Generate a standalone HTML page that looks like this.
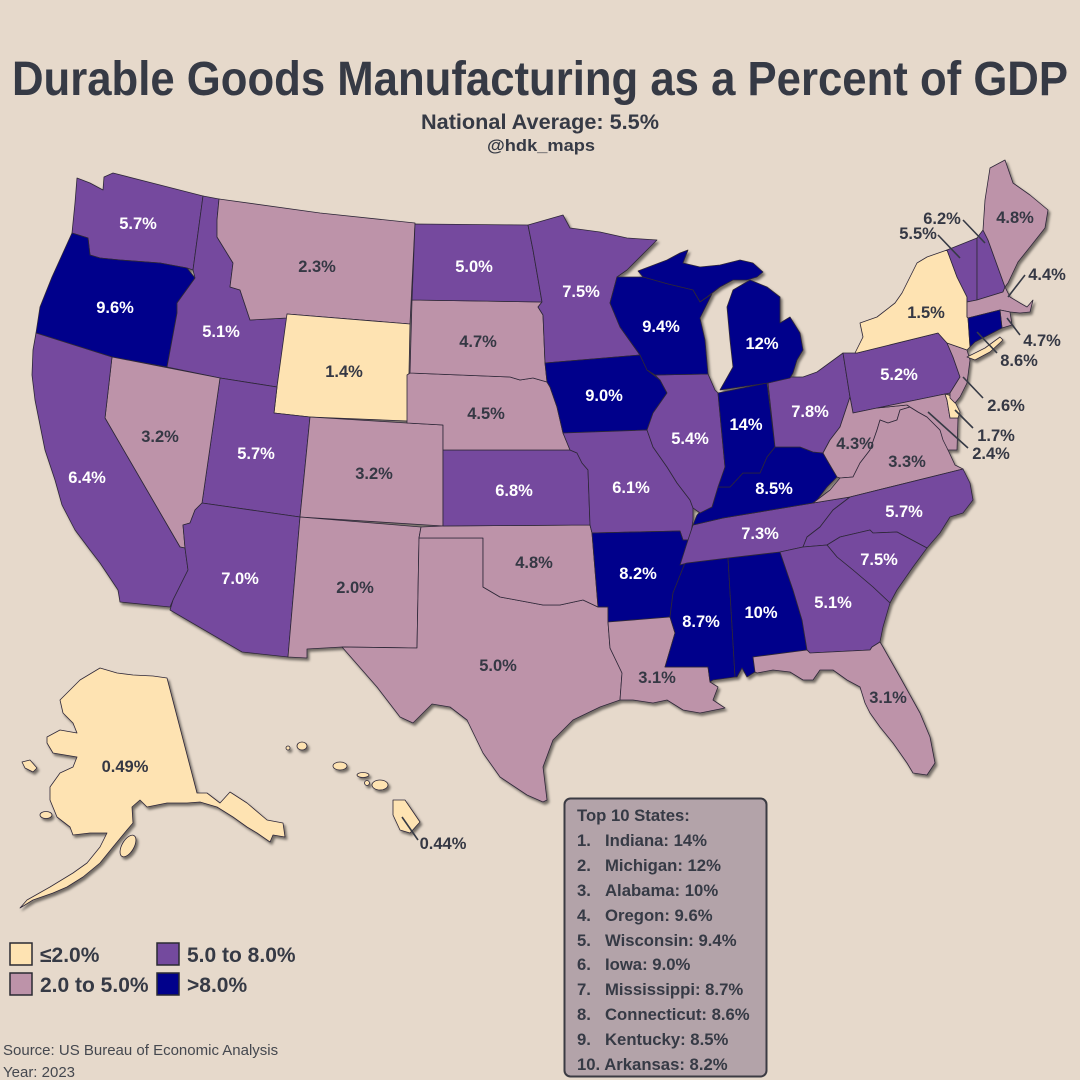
<!DOCTYPE html>
<html><head><meta charset="utf-8"><style>
html,body{margin:0;padding:0;background:#e6d9cb;}
svg{display:block;}
.t{font-family:"Liberation Sans",Arial,sans-serif;font-weight:bold;}
.lw{fill:#ffffff;font-size:16.5px;text-anchor:middle;}
.ld{fill:#353844;font-size:16.5px;text-anchor:middle;}
.y{fill:#fee3b2}.p{fill:#bd93a9}.u{fill:#744a9e}.n{fill:#01018b}
.st polygon,.st ellipse{stroke:#2e2838;stroke-width:0.8;stroke-linejoin:round;}
.ln{stroke:#363a45;stroke-width:1.6;fill:none;}
</style></head><body>
<svg width="1080" height="1080" viewBox="0 0 1080 1080" xmlns="http://www.w3.org/2000/svg">
<defs><filter id="sh" x="-5%" y="-5%" width="110%" height="110%"><feDropShadow dx="2" dy="2.5" stdDeviation="1.2" flood-color="#000" flood-opacity="0.5"/></filter></defs>
<rect width="1080" height="1080" fill="#e6d9cb"/>
<text class="t" x="12" y="95" font-size="48" fill="#363a45" textLength="1056" lengthAdjust="spacingAndGlyphs">Durable Goods Manufacturing as a Percent of GDP</text>
<text class="t" x="421" y="129" font-size="21" fill="#363a45" textLength="238" lengthAdjust="spacingAndGlyphs">National Average: 5.5%</text>
<text class="t" x="487" y="151" font-size="17" fill="#363a45" textLength="108" lengthAdjust="spacingAndGlyphs">@hdk_maps</text>

<g class="st" filter="url(#sh)">
<polygon class="u" points="77,178 90,183 103,190 104,177 113,173 160,185 203,196 193,270 187,268 160,263 120,260 100,258 90,255 88,238 72,233 75,203"/>
<polygon class="n" points="72,233 88,238 90,255 100,258 120,260 160,263 187,268 195,278 177,303 177,313 167,367 112,357 36,333 40,307 52,277 62,255"/>
<polygon class="u" points="203,196 219,199 217,220 217,237 233,263 230,287 240,290 250,320 287,318 277,387 220,378 167,367 177,313 177,303 195,278 193,270"/>
<polygon class="p" points="219,199 320,213 415,223 410,324 287,314 287,318 250,320 240,290 230,287 233,263 217,237 217,220"/>
<polygon class="y" points="287,314 410,324 408,421 310,417 274,413 277,387"/>
<polygon class="u" points="220,378 277,387 274,413 310,417 300,517 202,503"/>
<polygon class="p" points="112,357 220,378 202,503 195,510 190,523 183,525 185,548 180,547 105,418"/>
<polygon class="u" points="36,333 112,357 105,418 180,547 185,548 188,570 173,600 170,607 120,602 118,590 100,563 90,550 75,530 62,505 55,480 45,450 40,425 35,400 32,375 33,350"/>
<polygon class="u" points="202,503 300,517 288,657 242,652 170,610 173,600 188,570 185,548 183,525 190,523 195,510"/>
<polygon class="p" points="310,417 407,423 443,425 443,526 300,517"/>
<polygon class="p" points="300,517 421,527 419,538 417,648 342,647 307,649 307,658 288,657"/>
<polygon class="p" points="419,538 483,538 483,587 500,597 527,602 543,605 560,605 583,600 598,607 608,607 608,622 610,648 622,673 620,700 600,707 573,720 553,740 543,767 547,800 543,802 527,795 500,777 483,753 467,720 450,707 432,704 413,723 400,717 377,687 342,647 417,648"/>
<polygon class="p" points="421,527 443,526 590,525 592,533 598,607 583,600 560,605 543,605 527,602 500,597 483,587 483,538 419,538"/>
<polygon class="u" points="443,450 570,450 577,453 582,463 588,470 590,525 443,526"/>
<polygon class="p" points="410,373 510,377 520,380 533,378 547,382 550,387 557,407 563,433 570,450 443,450 443,425 407,423 407,375"/>
<polygon class="p" points="412,300 542,302 538,307 543,315 545,363 547,382 533,378 520,380 510,377 410,373"/>
<polygon class="u" points="415,224 528,225 533,250 542,302 412,300"/>
<polygon class="u" points="528,225 563,215 570,228 600,232 627,238 657,240 627,270 617,277 610,303 620,327 640,355 545,363 543,315 538,307 542,302 533,250"/>
<polygon class="n" points="545,363 640,355 647,370 660,380 667,393 653,413 647,430 563,433 557,407 550,387 547,382"/>
<polygon class="u" points="563,433 647,430 653,447 667,467 677,483 690,500 693,508 693,520 690,540 683,540 680,531 592,533 590,525 588,470 582,463 577,453 570,450"/>
<polygon class="n" points="592,533 680,531 683,540 690,540 685,563 673,593 670,617 608,622 608,607 598,607"/>
<polygon class="p" points="608,622 670,617 675,633 665,667 708,667 710,682 718,687 713,700 725,708 700,713 683,710 667,700 653,703 633,700 620,700 622,673 610,648"/>
<polygon class="n" points="687,563 728,558 735,677 713,680 710,682 708,667 665,667 675,633 670,617 673,593 685,563"/>
<polygon class="n" points="728,558 780,552 793,590 802,620 807,650 753,657 755,672 747,677 742,668 737,677 735,677"/>
<polygon class="u" points="693,525 723,518 813,503 850,497 833,510 820,527 807,537 803,547 780,552 728,558 687,563 680,565 687,543"/>
<polygon class="n" points="700,512 712,507 718,487 730,487 743,473 760,473 767,457 775,447 800,447 813,452 823,453 827,460 837,477 827,487 817,500 813,503 723,518 693,525 697,515"/>
<polygon class="u" points="655,375 708,374 715,390 718,393 725,467 720,487 718,487 712,507 700,513 693,508 690,500 677,483 667,467 653,447 647,430 653,413 667,393 660,380"/>
<polygon class="n" points="718,393 767,383 775,447 767,457 760,473 743,473 730,487 718,487 725,467"/>
<polygon class="u" points="768,383 790,377 803,377 817,372 843,353 850,397 840,427 830,440 823,453 813,452 800,447 775,447"/>
<polygon class="n" points="720,390 733,367 730,340 727,307 733,290 750,280 767,287 780,297 780,323 790,317 800,333 803,350 797,360 793,373 790,378 768,383"/>
<polygon class="n" points="638,271 667,260 680,253 688,250 683,263 700,267 720,265 740,260 753,263 763,272 757,277 747,280 733,280 720,287 707,297 700,302 693,290 668,284 643,277"/>
<polygon class="n" points="617,277 643,277 668,284 693,290 700,302 712,294 700,318 705,340 708,374 655,375 647,370 640,355 620,327 610,303"/>
<polygon class="u" points="843,353 857,353 938,333 947,343 953,357 960,377 950,393 853,413 850,397"/>
<polygon class="p" points="850,397 853,413 877,408 887,407 907,405 910,407 900,410 897,420 888,423 880,420 877,430 870,450 860,463 853,477 840,478 837,477 827,460 823,453 830,440 840,427"/>
<polygon class="p" points="813,503 830,490 840,478 853,477 860,463 870,450 877,430 880,420 888,423 897,420 900,410 910,407 918,412 927,417 940,430 948,450 955,465 963,469 850,497"/>
<polygon class="p" points="877,408 945,394 947,400 950,418 958,418 957,450 948,450 943,440 940,430 927,417 918,412 910,407 907,405 887,407"/>
<polygon class="y" points="945,394 952,396 960,412 958,418 950,418 947,400"/>
<polygon class="p" points="947,343 967,350 970,360 967,383 960,397 955,403 950,398 950,393 960,377 953,357"/>
<polygon class="y" points="855,353 863,337 860,323 877,317 895,303 902,293 907,283 917,263 927,257 947,250 957,277 967,297 967,302 967,317 968,318 970,347 967,350 947,343 938,333 857,353"/>
<polygon class="y" points="967,357 985,348 1000,337 1003,340 990,352 975,360"/>
<polygon class="u" points="947,250 977,238 977,300 967,302 967,297 957,277"/>
<polygon class="u" points="977,238 983,230 988,240 1005,287 1003,292 977,300"/>
<polygon class="p" points="983,230 985,200 990,168 1005,160 1013,183 1030,195 1048,210 1045,228 1030,247 1018,262 1008,283 1005,287 988,240"/>
<polygon class="p" points="967,302 977,300 1003,292 1005,287 1010,297 1020,303 1027,307 1033,300 1030,312 1020,313 1010,312 1000,310 968,318 967,317"/>
<polygon class="p" points="1000,310 1010,312 1012,325 1002,328"/>
<polygon class="n" points="968,318 1000,310 1002,328 975,342 970,347"/>
<polygon class="u" points="850,497 963,469 970,483 973,500 963,513 950,517 940,533 927,548 897,532 873,533 870,530 840,537 827,545 803,547 807,537 820,527 833,510"/>
<polygon class="u" points="827,545 840,537 870,530 873,533 897,532 927,548 913,567 897,590 890,603 873,587 853,570 837,557"/>
<polygon class="u" points="780,552 803,547 827,545 837,557 853,570 873,587 890,603 883,627 880,642 872,647 870,650 810,653 807,650 802,620 793,590"/>
<polygon class="p" points="753,657 807,650 810,653 870,650 872,647 880,642 883,647 900,677 920,713 930,737 935,763 927,775 913,773 907,763 893,743 880,727 870,713 865,703 860,687 847,680 833,670 820,670 813,680 803,680 790,672 773,670 757,673 755,672"/>
<polygon class="y" points="60,700 80,680 100,668 117,673 133,675 153,676 167,678 197,793 207,793 220,803 230,792 247,803 267,820 283,823 285,837 273,835 270,842 257,833 247,827 233,817 217,807 200,802 187,803 167,803 147,807 140,800 132,807 133,823 127,830 113,847 100,863 83,877 67,887 53,893 33,900 20,908 27,900 50,887 73,873 87,863 100,847 107,833 90,833 73,835 70,827 57,817 50,800 50,787 60,773 73,767 77,757 53,753 47,743 47,737 60,730 77,733 73,723 63,713"/>
<ellipse class="y" cx="128" cy="846" rx="6" ry="12" transform="rotate(30 128 846)"/>
<polygon class="y" points="22,762 30,760 37,768 33,772 25,768"/>
<ellipse class="y" cx="46" cy="815" rx="6" ry="3.5"/>
<ellipse class="y" cx="302" cy="746" rx="5" ry="4"/>
<ellipse class="y" cx="288" cy="748" rx="2" ry="2"/>
<ellipse class="y" cx="340" cy="766" rx="7" ry="4"/>
<ellipse class="y" cx="363" cy="775" rx="6" ry="2.5"/>
<ellipse class="y" cx="380" cy="785" rx="8" ry="5"/>
<ellipse class="y" cx="367" cy="783" rx="2.5" ry="2.5"/>
<polygon class="y" points="393,800 405,800 420,822 410,833 400,830 393,815"/>
</g>

<line class="ln" x1="963" y1="220" x2="985" y2="243"/>
<line class="ln" x1="938" y1="235" x2="960" y2="258"/>
<line class="ln" x1="1025" y1="275" x2="1008" y2="297"/>
<line class="ln" x1="1020" y1="335" x2="1007" y2="318"/>
<line class="ln" x1="997" y1="353" x2="977" y2="332"/>
<line class="ln" x1="983" y1="398" x2="963" y2="377"/>
<line class="ln" x1="973" y1="428" x2="955" y2="410"/>
<line class="ln" x1="968" y1="448" x2="928" y2="412"/>
<line class="ln" x1="402" y1="817" x2="418" y2="840"/>

<g class="t">
<text class="lw" x="138" y="229">5.7%</text>
<text class="lw" x="115" y="313">9.6%</text>
<text class="lw" x="221" y="337">5.1%</text>
<text class="ld" x="317" y="272">2.3%</text>
<text class="ld" x="344" y="377">1.4%</text>
<text class="lw" x="474" y="272">5.0%</text>
<text class="ld" x="478" y="347">4.7%</text>
<text class="ld" x="486" y="419">4.5%</text>
<text class="lw" x="581" y="297">7.5%</text>
<text class="lw" x="661" y="332">9.4%</text>
<text class="lw" x="762" y="349">12%</text>
<text class="lw" x="604" y="401">9.0%</text>
<text class="lw" x="690" y="444">5.4%</text>
<text class="lw" x="746" y="430">14%</text>
<text class="lw" x="810" y="417">7.8%</text>
<text class="lw" x="774" y="494">8.5%</text>
<text class="lw" x="760" y="539">7.3%</text>
<text class="lw" x="631" y="493">6.1%</text>
<text class="lw" x="514" y="496">6.8%</text>
<text class="ld" x="374" y="479">3.2%</text>
<text class="lw" x="256" y="459">5.7%</text>
<text class="ld" x="160" y="442">3.2%</text>
<text class="lw" x="87" y="483">6.4%</text>
<text class="lw" x="240" y="584">7.0%</text>
<text class="ld" x="355" y="593">2.0%</text>
<text class="ld" x="534" y="568">4.8%</text>
<text class="ld" x="498" y="671">5.0%</text>
<text class="lw" x="638" y="579">8.2%</text>
<text class="ld" x="657" y="683">3.1%</text>
<text class="lw" x="701" y="627">8.7%</text>
<text class="lw" x="761" y="618">10%</text>
<text class="lw" x="833" y="608">5.1%</text>
<text class="ld" x="888" y="703">3.1%</text>
<text class="lw" x="879" y="565">7.5%</text>
<text class="lw" x="904" y="517">5.7%</text>
<text class="ld" x="907" y="467">3.3%</text>
<text class="ld" x="855" y="449">4.3%</text>
<text class="lw" x="899" y="380">5.2%</text>
<text class="ld" x="926" y="318">1.5%</text>
<text class="ld" x="1015" y="223">4.8%</text>
<text class="ld" x="942" y="224">6.2%</text>
<text class="ld" x="918" y="239">5.5%</text>
<text class="ld" x="1047" y="280">4.4%</text>
<text class="ld" x="1042" y="346">4.7%</text>
<text class="ld" x="1019" y="366">8.6%</text>
<text class="ld" x="1006" y="411">2.6%</text>
<text class="ld" x="996" y="441">1.7%</text>
<text class="ld" x="991" y="459">2.4%</text>
<text class="ld" x="125" y="772">0.49%</text>
<text class="ld" x="443" y="849">0.44%</text>
</g>

<rect x="10" y="943" width="22" height="22" fill="#fee3b2" stroke="#2a2a33" stroke-width="1.5"/>
<rect x="10" y="973" width="22" height="22" fill="#bd93a9" stroke="#2a2a33" stroke-width="1.5"/>
<rect x="157" y="943" width="22" height="22" fill="#744a9e" stroke="#2a2a33" stroke-width="1.5"/>
<rect x="157" y="973" width="22" height="22" fill="#01018b" stroke="#2a2a33" stroke-width="1.5"/>
<g class="t" fill="#363a45" font-size="21">
<text x="40" y="962">≤2.0%</text>
<text x="40" y="992">2.0 to 5.0%</text>
<text x="187" y="962">5.0 to 8.0%</text>
<text x="187" y="992">&gt;8.0%</text>
</g>
<g font-family="'Liberation Sans',Arial,sans-serif" font-size="15" fill="#45484f">
<text x="3" y="1055">Source: US Bureau of Economic Analysis</text>
<text x="3" y="1077">Year: 2023</text>
</g>

<rect x="564.5" y="798.5" width="202" height="278" rx="6" ry="6" fill="#b3a3a9" stroke="#3b3b43" stroke-width="2"/>
<g class="t" fill="#363a45" font-size="16.7">
<text x="577" y="821">Top 10 States:</text>
<text x="577" y="846">1.</text><text x="605" y="846">Indiana: 14%</text>
<text x="577" y="871">2.</text><text x="605" y="871">Michigan: 12%</text>
<text x="577" y="896">3.</text><text x="605" y="896">Alabama: 10%</text>
<text x="577" y="921">4.</text><text x="605" y="921">Oregon: 9.6%</text>
<text x="577" y="946">5.</text><text x="605" y="946">Wisconsin: 9.4%</text>
<text x="577" y="970">6.</text><text x="605" y="970">Iowa: 9.0%</text>
<text x="577" y="995">7.</text><text x="605" y="995">Mississippi: 8.7%</text>
<text x="577" y="1020">8.</text><text x="605" y="1020">Connecticut: 8.6%</text>
<text x="577" y="1045">9.</text><text x="605" y="1045">Kentucky: 8.5%</text>
<text x="577" y="1070">10. Arkansas: 8.2%</text>
</g>
</svg>
</body></html>
